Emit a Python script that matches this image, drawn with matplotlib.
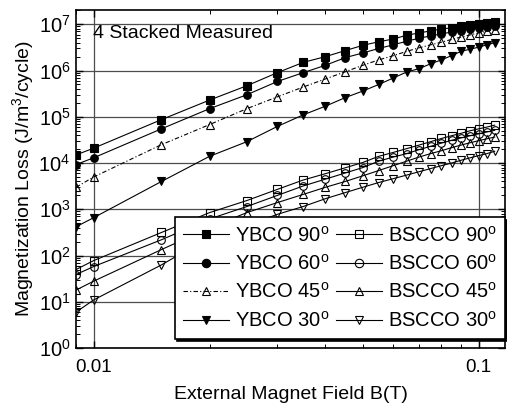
import matplotlib
matplotlib.use("Agg")
import matplotlib.pyplot as plt
from matplotlib.ticker import LogLocator, NullFormatter

plt.rcParams['font.family'] = ['Liberation Sans', 'DejaVu Sans']
plt.rcParams['mathtext.fontset'] = 'custom'
plt.rcParams['mathtext.rm'] = 'Liberation Sans'

#---------------- data ----------------
field = [0.009, 0.01, 0.015, 0.02, 0.025, 0.03, 0.035, 0.04, 0.045, 0.05, 0.055,
         0.06, 0.065, 0.07, 0.075, 0.08, 0.085, 0.09, 0.095, 0.1, 0.105, 0.11]

ybco_90 = [1.5e4, 2.1e4, 8.7e4, 2.3e5, 4.7e5, 9e5, 1.5e6, 2.0e6, 2.7e6, 3.5e6, 4.2e6,
           4.8e6, 5.8e6, 6.5e6, 7.2e6, 7.9e6, 8.4e6, 9.0e6, 9.5e6, 1.02e7, 1.07e7, 1.1e7]
ybco_60 = [9.3e3, 1.3e4, 5.5e4, 1.5e5, 3e5, 5.8e5, 9e5, 1.3e6, 1.9e6, 2.4e6, 3.0e6,
           3.6e6, 4.3e6, 5.0e6, 5.6e6, 6.2e6, 6.8e6, 7.3e6, 7.8e6, 8.3e6, 8.8e6, 9.2e6]
ybco_45 = [3e3, 5e3, 2.5e4, 6.8e4, 1.5e5, 2.7e5, 4.4e5, 6.6e5, 9.4e5, 1.3e6, 1.7e6,
           2.1e6, 2.6e6, 3.1e6, 3.6e6, 4.1e6, 4.7e6, 5.3e6, 5.9e6, 6.5e6, 7.1e6, 7.7e6]
ybco_30 = [420, 660, 4e3, 1.4e4, 2.9e4, 6.2e4, 1.1e5, 1.7e5, 2.6e5, 3.6e5, 5e5,
           6.9e5, 9.3e5, 1.1e6, 1.4e6, 1.7e6, 2.1e6, 2.6e6, 2.9e6, 3.2e6, 3.6e6, 4e6]

bscco_90 = [50, 78, 316, 850, 1.55e3, 2.7e3, 4.3e3, 5.9e3, 7.9e3, 1.03e4, 1.4e4,
            1.7e4, 2.05e4, 2.45e4, 2.9e4, 3.4e4, 3.9e4, 4.4e4, 5e4, 5.5e4, 6e4, 6.6e4]
bscco_60 = [39, 58, 220, 620, 1.15e3, 2.0e3, 3.2e3, 4.5e3, 6.1e3, 8e3, 1.1e4,
            1.35e4, 1.6e4, 1.95e4, 2.3e4, 2.7e4, 3.1e4, 3.5e4, 3.9e4, 4.3e4, 4.7e4, 5.1e4]
bscco_45 = [18, 28, 135, 400, 850, 1.4e3, 2.1e3, 3.0e3, 4.0e3, 5.3e3, 6.9e3,
            8.8e3, 1.1e4, 1.35e4, 1.6e4, 1.85e4, 2.15e4, 2.45e4, 2.75e4, 3.05e4, 3.35e4, 3.65e4]
bscco_30 = [6, 11, 63, 250, 450, 780, 1.15e3, 1.7e3, 2.3e3, 3.0e3, 3.8e3,
            4.6e3, 5.5e3, 6.5e3, 7.6e3, 8.8e3, 1.0e4, 1.15e4, 1.3e4, 1.45e4, 1.6e4, 1.8e4]
#------------------------------------------------------------

fig = plt.figure(figsize=(5.07, 4.11), dpi=100)
ax = fig.add_axes([0.150, 0.153, 0.846, 0.823])

deg = '$^\\mathrm{o}$'
series = [
    (ybco_90, 's', 'k', '-', 'YBCO 90' + deg),
    (ybco_60, 'o', 'k', '-', 'YBCO 60' + deg),
    (ybco_45, '^', 'none', (0, (4, 2, 1, 2)), 'YBCO 45' + deg),
    (ybco_30, 'v', 'k', '-', 'YBCO 30' + deg),
    (bscco_90, 's', 'none', '-', 'BSCCO 90' + deg),
    (bscco_60, 'o', 'none', '-', 'BSCCO 60' + deg),
    (bscco_45, '^', 'none', '-', 'BSCCO 45' + deg),
    (bscco_30, 'v', 'none', '-', 'BSCCO 30' + deg),
]
for vals, mk, fc, ls, lab in series:
    ax.plot(field, vals, color='k', lw=0.8, ls=ls, marker=mk, ms=5.5,
            mfc=fc, mec='k', mew=0.8, label=lab)

ax.set_xscale('log')
ax.set_yscale('log')
ax.set_xlim(0.009, 0.117)
ax.set_ylim(1, 2.05e7)

ax.set_xticks([0.01, 0.1])
ax.set_xticklabels(['0.01', '0.1'])
ax.xaxis.set_minor_locator(LogLocator(base=10, subs=range(2, 10)))
ax.xaxis.set_minor_formatter(NullFormatter())
ax.yaxis.set_major_locator(LogLocator(base=10, numticks=10))
ax.yaxis.set_minor_locator(LogLocator(base=10, subs=range(2, 10), numticks=20))
ax.yaxis.set_minor_formatter(NullFormatter())

ax.tick_params(which='both', direction='in', top=True, right=True)
ax.tick_params(which='major', length=5, width=1)
ax.tick_params(which='minor', length=3, width=0.7)
ax.tick_params(axis='x', labelsize=13.5, pad=8)
ax.tick_params(axis='y', labelsize=14.5, pad=4)

ax.grid(True, which='major', color='0.3', lw=0.9)
for s in ax.spines.values():
    s.set_linewidth(1.2)

ax.set_xlabel('External Magnet Field B(T)', fontsize=14, labelpad=7)
ax.set_ylabel('Magnetization Loss (J/m$^3$/cycle)', fontsize=14, labelpad=1)

ax.text(0.04, 0.955, '4 Stacked Measured', transform=ax.transAxes,
        fontsize=14, ha='left', va='top')

leg = ax.legend(ncol=2, loc='lower right', bbox_to_anchor=(1.0, 0.028),
                borderaxespad=0, fontsize=14.5, frameon=True, fancybox=False,
                shadow={'color': 'black', 'alpha': 1}, edgecolor='k',
                framealpha=1, handlelength=2.3, handletextpad=0.3,
                columnspacing=0.3, labelspacing=0.42, borderpad=0.4,
                markerscale=1.1)
leg.get_frame().set_linewidth(1.2)

fig.savefig('out.png', dpi=100)
